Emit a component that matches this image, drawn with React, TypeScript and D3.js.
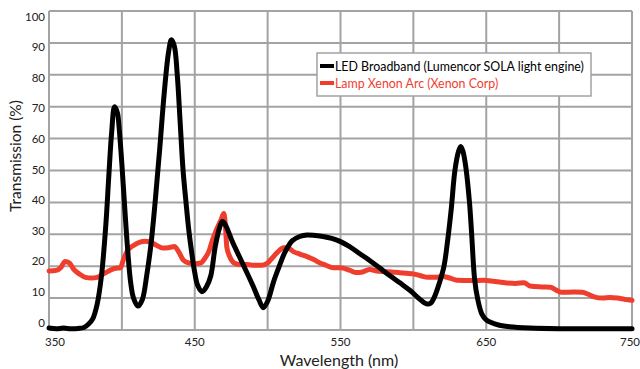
import React from "react";
import * as d3 from "d3";

const xTicks = [350, 400, 450, 500, 550, 600, 650, 700, 750];
const xTickLabels = [350, 450, 550, 650, 750];
const yTicks = [0, 10, 20, 30, 40, 50, 60, 70, 80, 90, 100];

const ledWavelength = [
  350, 355, 360, 365, 370, 374, 377, 380, 383, 386, 389, 391, 393, 395, 397, 398, 400, 402, 404, 406, 408, 411,
  414, 417, 420, 423, 426, 429, 432, 434, 436, 438, 440, 442, 444, 446, 448, 450, 452, 455,
  458, 461, 464, 467, 469, 471, 476, 483, 490, 494, 497, 500, 504, 508, 512, 517, 522, 527, 533, 538,
  544, 550, 556, 563, 570, 577, 584, 591, 598, 604, 609, 612, 615, 618, 621, 623.5, 626, 628.5, 631, 632.5,
  634, 636, 638.5, 640, 642, 644, 647, 650, 653, 659, 666, 680, 700, 720, 750,
];
const ledValue = [
  0.6, 0.4, 0.6, 0.4, 0.5, 0.8, 1.8, 3.5, 8, 17, 33, 48, 62, 70, 68, 64, 52, 38, 25, 15, 10, 7.5,
  9.5, 17, 27, 41, 57, 74, 87, 91, 89, 80, 65, 50, 40, 31, 24, 18, 14, 12,
  13.5, 17, 26, 32, 34, 33, 27.5, 20.7, 13.8, 9.5, 7, 9, 15, 20, 24.5, 28, 29.3, 29.8, 29.6, 29.3,
  28.7, 27.7, 26.2, 24, 21.8, 19.4, 17, 14.7, 12.3, 9.8, 8.2, 8.5, 11, 15, 20, 28, 38, 50, 56, 57.5,
  56, 51, 40, 30, 16, 10, 5, 3.2, 2.4, 1.5, 1, 0.6, 0.4, 0.4, 0.4,
];

const xenonWavelength = [
  350, 355, 358, 361, 364, 367, 371, 375, 379, 383, 387, 391, 395, 399, 401, 404, 408, 412, 416, 420,
  424, 428, 432, 436, 439, 442, 446, 450, 454, 457, 460, 462, 465, 468, 470, 471, 472, 474, 477, 481,
  486, 491, 496, 500, 503, 507, 511, 514, 518, 522, 527, 532, 536, 540, 545, 550, 556, 561, 565, 570,
  575, 580, 585, 590, 595, 600, 605, 610, 615, 620, 625, 630, 640, 648, 655, 660, 670, 676, 680, 688,
  694, 698, 702, 710, 716, 720, 724, 730, 735, 740, 745, 750,
];
const xenonValue = [
  18.5, 18.7, 19.5, 21.5, 21, 19, 17.5, 16.5, 16.3, 16.5, 17.5, 18.5, 19.3, 19.5, 22, 25, 26.5, 27.5, 27.8, 27.5,
  26.5, 25.7, 25.8, 26.2, 24.5, 22, 21, 20.8, 21, 22.5, 25, 28, 31.5, 34.5, 36.5, 33, 26, 23, 21, 20.5,
  20.5, 20.3, 20.3, 21, 22.5, 24.5, 25.8, 25.7, 24.5, 23.8, 23, 22, 21, 20.3, 19.5, 19.5, 18.8, 18, 18.2, 19,
  18.5, 18.3, 18.2, 18, 17.8, 17.6, 17, 16.5, 16.5, 16.8, 16.3, 15.6, 15.5, 15.6, 15.3, 15, 14.6, 14.8, 13.8, 13.5,
  13.4, 12.5, 11.8, 11.9, 11.8, 11.2, 10.4, 10, 10.2, 10, 9.6, 9.3,
];

const legendLabels = ["LED Broadband (Lumencor SOLA light engine)", "Lamp Xenon Arc (Xenon Corp)"];
const seriesColors = ["#000000", "#ef3e2e"];

const W = 640;
const H = 369;
const FONT = "Lato, 'Open Sans', sans-serif";
const GRID = "#a3a3a3";

export default function App() {
  const x = d3.scaleLinear().domain([350, 750]).range([49, 632]);
  const y = d3.scaleLinear().domain([0, 100]).range([330, 11]);
  const yLabel = d3.scaleLinear().domain([0, 100]).range([322, 16]);

  const ledData = ledWavelength.map((w, i) => [w, ledValue[i]] as [number, number]);
  const xenonData = xenonWavelength.map((w, i) => [w, xenonValue[i]] as [number, number]);

  const smoothLine = d3
    .line<[number, number]>()
    .x((d) => x(d[0]))
    .y((d) => y(d[1]))
    .curve(d3.curveCatmullRom.alpha(0.5));
  const roughLine = d3
    .line<[number, number]>()
    .x((d) => x(d[0]))
    .y((d) => y(d[1]))
    .curve(d3.curveMonotoneX);

  return (
    <svg
      width={W}
      height={H}
      style={{ position: "absolute", left: 0, top: 0, background: "#fff" }}
      fontFamily={FONT}
    >
      {yTicks.map((t) => (
        <line key={"h" + t} x1={x(350)} x2={x(750)} y1={y(t)} y2={y(t)} stroke={GRID} strokeWidth={2} />
      ))}
      {xTicks.map((t) => (
        <line key={"v" + t} x1={x(t)} x2={x(t)} y1={y(100)} y2={y(0)} stroke={GRID} strokeWidth={2} />
      ))}

      <path d={roughLine(xenonData) || ""} fill="none" stroke={seriesColors[1]} strokeWidth={5} strokeLinejoin="round" strokeLinecap="round" />
      <path d={smoothLine(ledData) || ""} fill="none" stroke={seriesColors[0]} strokeWidth={5} strokeLinejoin="round" strokeLinecap="round" />

      {yTicks.map((t) => (
        <text key={"yl" + t} x={45} y={yLabel(t)} textAnchor="end" dominantBaseline="central" fontSize={11.5} fill="#222">
          {t}
        </text>
      ))}
      {xTickLabels.map((t, i) => (
        <text
          key={"xl" + t}
          x={x(t) + (i === 0 ? 6 : i === xTickLabels.length - 1 ? -2 : 0)}
          y={341}
          textAnchor="middle"
          dominantBaseline="central"
          fontSize={11.5}
          fill="#222"
        >
          {t}
        </text>
      ))}

      <text x={339} y={359} textAnchor="middle" dominantBaseline="central" fontSize={16} fill="#222">
        Wavelength (nm)
      </text>
      <text
        transform="translate(15,156) rotate(-90)"
        textAnchor="middle"
        dominantBaseline="central"
        fontSize={15.5}
        fill="#222"
      >
        Transmission (%)
      </text>

      <rect x={317} y={53} width={274} height={43} fill="#fff" stroke={GRID} strokeWidth={1.5} />
      {legendLabels.map((lab, i) => (
        <g key={lab}>
          <line x1={320} x2={334} y1={66 + i * 17} y2={66 + i * 17} stroke={seriesColors[i]} strokeWidth={4} />
          <text x={335} y={66 + i * 17} dominantBaseline="central" fontSize={12.4} fill={seriesColors[i]}>
            {lab}
          </text>
        </g>
      ))}
    </svg>
  );
}
